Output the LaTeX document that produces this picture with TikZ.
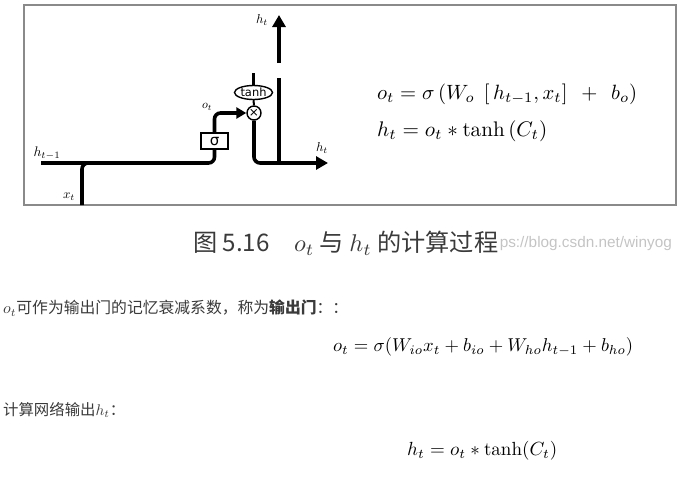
\documentclass[tikz,border=0pt]{standalone}
\usepackage{fontspec}
\usepackage{graphicx}
\newfontfamily\cjk{Noto Sans CJK SC}
\newfontfamily\dejavu{DejaVu Sans}
\newfontfamily\wmfont{Liberation Sans}
\usetikzlibrary{arrows.meta,shapes.geometric}
\definecolor{txtgray}{HTML}{3A3A3A}
\definecolor{wmgray}{HTML}{C4C4C4}
\definecolor{framegray}{HTML}{8A8A8A}
\tikzset{
  wire/.style={line width=3.6pt, black},
  bigarrow/.style={wire, -{Triangle[length=12pt,width=13pt]}},
  smallarrow/.style={wire, -{Triangle[length=10pt,width=11pt]}},
  gatebox/.style={draw, line width=1.4pt, fill=white, inner sep=0pt},
  lbl/.style={inner sep=0pt},
  bodytext/.style={inner sep=0pt, text=txtgray},
}
\begin{document}
\begin{tikzpicture}[x=1pt,y=-1pt]
\useasboundingbox (0,0) rectangle (695,477);
% frame
\draw[framegray, line width=1.2pt] (24,5) rectangle (676,205);

% coordinates
\coordinate (hstart) at (41,163);
\coordinate (xbot) at (82,205);
\coordinate (xjoin) at (100,163);
\coordinate (hout) at (328,163);
\coordinate (vbase) at (279,163);
\coordinate (gaplow) at (279,78);
\coordinate (gaphigh) at (279,63);
\coordinate (uptip) at (279,15);
\coordinate (tanhtop) at (253.5,73);

% gates
\node[gatebox, minimum width=27pt, minimum height=16pt] (sig) at (214.5,141) {\dejavu\fontsize{15}{15}\selectfont σ};
\node[gatebox, circle, minimum size=14pt] (mul) at (254,113) {\dejavu\fontsize{12}{12}\selectfont ×};
\node[gatebox, ellipse, minimum width=38pt, minimum height=14pt] (tanh) at (253.5,92.5) {\resizebox{26pt}{!}{\dejavu tanh}};

% wires
\draw[wire, rounded corners=6pt] (hstart) -| (sig.south);
\draw[wire, rounded corners=6pt] (xbot) |- (xjoin);
\draw[smallarrow, rounded corners=6pt] (sig.north) |- (mul.west);
\draw[wire] (tanhtop) -- (tanh.north);
\draw[wire, line width=2pt] (tanh.south) -- (mul.north);
\draw[bigarrow, rounded corners=6pt] (mul.south) |- (hout);
\draw[wire] (vbase) -- (gaplow);
\draw[bigarrow] (gaphigh) -- (uptip);

% labels
\node[lbl] (lhprev) at (47,153) {\resizebox{27pt}{!}{$h_{t-1}$}};
\node[lbl] (lx) at (69,197) {\resizebox{12pt}{!}{$x_t$}};
\node[lbl] (lo) at (207,107) {\resizebox{10pt}{!}{$o_t$}};
\node[lbl] (lhr) at (322,148) {\resizebox{12pt}{!}{$h_t$}};
\node[lbl] (lhu) at (262,20) {\resizebox{12pt}{!}{$h_t$}};

% equations in frame
\node[inner sep=0pt, anchor=west] (eqA) at (377,94) {\resizebox{260pt}{!}{$o_t = \sigma\,(W_o\;\,[\,h_{t-1}, x_t]\;\,+\;\,b_o)$}};
\node[inner sep=0pt, anchor=west] (eqB) at (377,131) {\resizebox{170pt}{!}{$h_t = o_t * \tanh\,(C_t)$}};

% caption + watermark
\node[inner sep=1pt, anchor=west, text=txtgray] (cap) at (192,243) {\resizebox{305pt}{!}{\cjk 图 5.16\quad $o_t$ 与 $h_t$ 的计算过程}};
\node[inner sep=0pt, anchor=east, text=wmgray] (wm) at (672,244) {\resizebox{172pt}{!}{\wmfont ps://blog.csdn.net/winyog}};

% body text
\node[bodytext, anchor=west] (t1) at (3,308) {\resizebox{345pt}{!}{\cjk $o_t$可作为输出门的记忆衰减系数，称为{\bfseries 输出门}：：}};
\node[inner sep=0pt, anchor=west] (e1) at (333,347) {\resizebox{300pt}{!}{$o_t = \sigma( W_{io}x_t + b_{io} + W_{ho}h_{t-1} + b_{ho})$}};
\node[bodytext, anchor=west] (t2) at (3,410) {\resizebox{122pt}{!}{\cjk 计算网络输出$h_t$：}};
\node[inner sep=0pt, anchor=west] (e2) at (407,451) {\resizebox{150pt}{!}{$h_t = o_t * \tanh(C_t)$}};
\end{tikzpicture}
\end{document}
